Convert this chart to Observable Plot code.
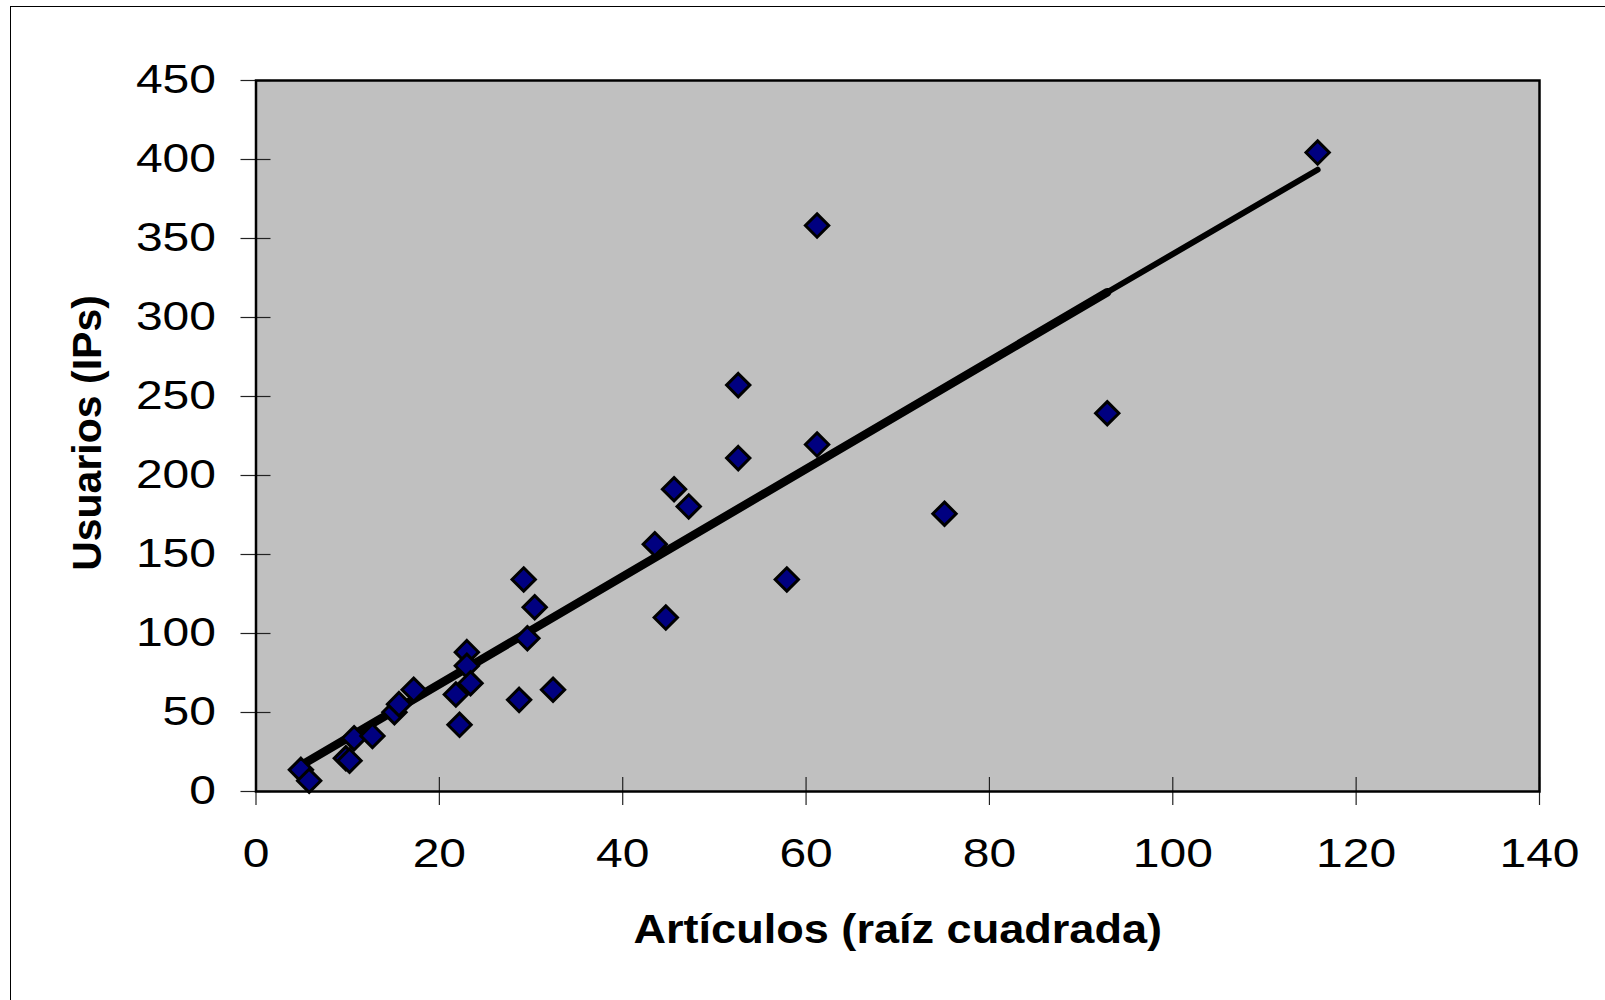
<!DOCTYPE html>
<html><head><meta charset="utf-8">
<script src="https://cdn.jsdelivr.net/npm/d3@7"></script>
<script src="https://cdn.jsdelivr.net/npm/@observablehq/plot@0.6"></script>
<style>
html,body{margin:0;padding:0;background:#fff;overflow:hidden;}
#wrap{position:relative;width:1605px;height:1000px;overflow:hidden;}
#border{position:absolute;left:10px;top:6px;width:1700px;height:1100px;border:1.3px solid #000;box-sizing:border-box;pointer-events:none;}
#chart{position:absolute;left:0;top:0;}
</style></head><body><div id="wrap"><div id="chart"></div><div id="border"></div></div>
<script>
// Data
const articulos = [4.9, 5.8, 9.8, 10.2, 10.7, 12.7, 15.1, 15.6, 17.2, 21.8, 22.2, 23.0, 23.0, 23.4, 28.7, 29.2, 29.6, 30.4, 32.4, 43.5, 44.7, 45.6, 47.2, 52.6, 52.6, 57.9, 61.2, 61.2, 75.1, 92.85, 115.8];
const usuarios  = [13.7, 6.8, 21.0, 19.5, 33.7, 35.2, 50.2, 55.3, 64.4, 61.4, 42.2, 88.2, 79.6, 68.5, 58.0, 134.2, 97.0, 116.6, 64.4, 156.5, 110.1, 191.3, 180.4, 257.2, 211.0, 134.2, 358.2, 219.6, 175.8, 239.4, 404.4];
// Fitted trend line as drawn (start, kink, end)
const trendX = [4.9, 92.85, 115.8];
const trendY = [16.5, 316, 393.5];
const xTicks = [0, 20, 40, 60, 80, 100, 120, 140];
const yTicks = [0, 50, 100, 150, 200, 250, 300, 350, 400, 450];
const xLabel = "Artículos (raíz cuadrada)";
const yLabel = "Usuarios (IPs)";

const points = articulos.map((x, i) => ({x, y: usuarios[i]}));
const trendThick = [0, 1].map(i => ({x: trendX[i], y: trendY[i]}));
const trendThin = [1, 2].map(i => ({x: trendX[i], y: trendY[i]}));
const font = "'Liberation Sans', Arial, Helvetica, sans-serif";

const plot = Plot.plot({
  width: 1605, height: 1000,
  marginLeft: 255.5, marginRight: 66, marginTop: 80, marginBottom: 209,
  style: {fontFamily: font, fontSize: "40px", color: "#000", background: "transparent", overflow: "visible"},
  x: {domain: [0, 140]},
  y: {domain: [0, 450]},
  marks: [
    Plot.frame({fill: "#c0c0c0"}),
    Plot.axisX({ticks: xTicks, tickSize: 14, tickPadding: 33, tickFormat: d => String(d), label: null, fontSize: 40, stroke: "#222", strokeWidth: 1.2}),
    Plot.axisX({ticks: xTicks, tickSize: 14, dy: -14, tickFormat: () => "", label: null, stroke: "#222", strokeWidth: 1.2}),
    Plot.axisY({ticks: yTicks, tickSize: 15, tickPadding: 25, tickFormat: d => String(d), label: null, fontSize: 40, stroke: "#222", strokeWidth: 1.2}),
    Plot.axisY({ticks: yTicks, tickSize: 15, dx: 15, tickFormat: () => "", label: null, stroke: "#222", strokeWidth: 1.2}),
    Plot.line(trendThick, {x: "x", y: "y", stroke: "#000", strokeWidth: 8.5, strokeLinecap: "round"}),
    Plot.line(trendThin, {x: "x", y: "y", stroke: "#000", strokeWidth: 6, strokeLinecap: "round"}),
    Plot.dot(points, {x: "x", y: "y", symbol: d3.symbolDiamond2 || "diamond2", r: 10.5, fill: "#000080", stroke: "#000", strokeWidth: 3}),
    Plot.frame({stroke: "#000", strokeWidth: 2.5}),
    Plot.text([xLabel], {text: d => d, frameAnchor: "bottom", dy: 138, lineAnchor: "middle", textAnchor: "middle", fontWeight: "bold", fontSize: 41, fill: "#000"}),
    Plot.text([yLabel], {text: d => d, frameAnchor: "left", dx: -168, dy: -3, rotate: -90, lineAnchor: "middle", textAnchor: "middle", fontWeight: "bold", fontSize: 41, fill: "#000"})
  ]
});
document.getElementById("chart").appendChild(plot);

function stretch(el, s) {
  const t = el.getAttribute("transform");
  if (t) el.setAttribute("transform", t + ` scale(${s},1)`);
  else {
    const x = +el.getAttribute("x") || 0, y = +el.getAttribute("y") || 0;
    el.removeAttribute("x"); el.removeAttribute("y");
    el.setAttribute("transform", `translate(${x},${y}) scale(${s},1)`);
  }
}
const svg = d3.select(plot);
svg.selectAll('g[aria-label="x-axis tick label"] text, g[aria-label="y-axis tick label"] text').each(function() { stretch(this, 1.2); });
svg.selectAll("text").each(function() { if (this.textContent === xLabel) stretch(this, 1.1); });
</script>
</body></html>
